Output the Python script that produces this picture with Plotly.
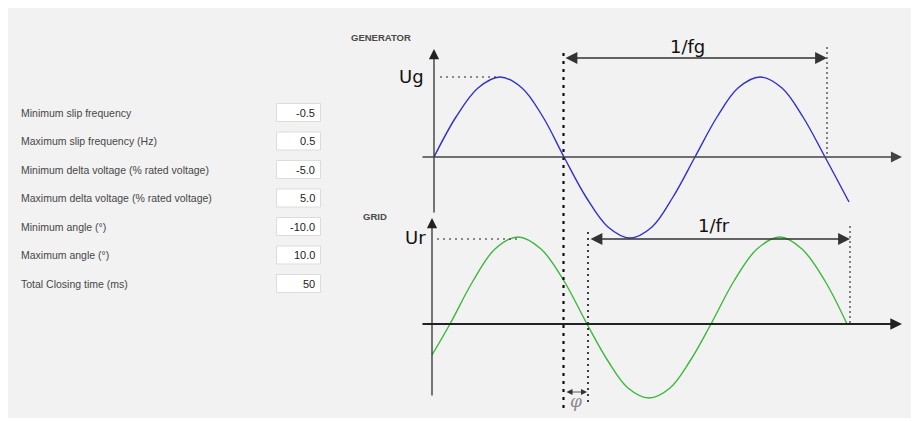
import plotly.graph_objects as go

W, H = 919, 421
OFF = 8  # browser body margin

# ---- form data ----
field_labels = [
    "Minimum slip frequency",
    "Maximum slip frequency (Hz)",
    "Minimum delta voltage (% rated voltage)",
    "Maximum delta voltage (% rated voltage)",
    "Minimum angle (°)",
    "Maximum angle (°)",
    "Total Closing time (ms)",
]
field_values = ["-0.5", "0.5", "-5.0", "5.0", "-10.0", "10.0", "50"]

# ---- diagram curves (pixel-space of the diagram) ----
gen_x = [434, 456, 478, 500, 522, 543, 564, 586, 608, 630, 652, 673, 695, 717, 738, 760, 782, 803, 825, 849]
gen_y = [157, 117, 88, 77, 88, 117, 157, 197, 227, 238, 227, 197, 157, 117, 88, 77, 88, 117, 157, 202]
grid_x = [432, 450, 473, 495, 518, 541, 564, 587, 608, 628, 649, 670, 690, 711, 734, 757, 780, 802, 825, 847]
grid_y = [355, 324, 281, 249, 237, 249, 281, 324, 361, 388, 398, 388, 361, 324, 281, 249, 237, 249, 281, 324]

fig = go.Figure()
fig.add_trace(go.Scatter(x=gen_x, y=gen_y, mode="lines", line=dict(color="#3030cc", width=1.4, shape="spline", smoothing=1.0), hoverinfo="skip"))
fig.add_trace(go.Scatter(x=grid_x, y=grid_y, mode="lines", line=dict(color="#3cb83c", width=1.4, shape="spline", smoothing=1.0), hoverinfo="skip"))

shapes = []
annotations = []

# background panel
shapes.append(dict(type="rect", xref="x", yref="y", x0=0, x1=912, y0=0, y1=418, fillcolor="#f2f2f2", line=dict(width=0), layer="below"))

# form
LBL_FONT = dict(family="Liberation Sans, Arial", size=10.5, color="#474747")
for i, (lab, val) in enumerate(zip(field_labels, field_values)):
    yc = 112.5 + i * 28.5
    annotations.append(dict(x=19, y=yc, xref="x", yref="y", text=lab, showarrow=False, xanchor="left", yanchor="middle", font=LBL_FONT))
    shapes.append(dict(type="rect", xref="x", yref="y", x0=276.5, x1=320.5, y0=yc - 9, y1=yc + 9, fillcolor="white", line=dict(color="#dcdcdc", width=1), layer="below"))
    annotations.append(dict(x=317, y=yc, xref="x", yref="y", text=val, showarrow=False, xanchor="right", yanchor="middle", font=dict(family="Liberation Sans, Arial", size=11, color="#222222")))

# titles
annotations.append(dict(x=349, y=37, xref="x", yref="y", text="<b>GENERATOR</b>", showarrow=False, xanchor="left", yanchor="middle", font=dict(family="Liberation Sans, Arial", size=9.5, color="#4a4a4a")))
annotations.append(dict(x=361, y=216, xref="x", yref="y", text="<b>GRID</b>", showarrow=False, xanchor="left", yanchor="middle", font=dict(family="Liberation Sans, Arial", size=9.5, color="#4a4a4a")))

def arrow(x0, y0, x1, y1, color="#111111", width=1.3, size=1.6, both=False, head=2):
    annotations.append(dict(x=x1, y=y1, ax=x0, ay=y0, xref="x", yref="y", axref="x", ayref="y", text="", showarrow=True,
                            arrowhead=head, arrowsize=size, arrowwidth=width, arrowcolor=color,
                            arrowside="end+start" if both else "end", startarrowhead=head, startarrowsize=size, standoff=0, startstandoff=0))

# generator axes
arrow(434, 214, 434, 49, color="#222222", width=1.2, size=1.7)
arrow(421, 157, 902, 157, color="#444444", width=1.3, size=1.7)
# grid axes
arrow(432, 397, 432, 218, color="#222222", width=1.2, size=1.7)
arrow(421, 324, 902, 324, color="#222222", width=1.8, size=1.3)

# dotted guide lines
shapes.append(dict(type="line", xref="x", yref="y", x0=563.5, x1=563.5, y0=53, y1=411, line=dict(color="#111111", width=2.2, dash="3px,5px")))
shapes.append(dict(type="line", xref="x", yref="y", x0=588, x1=588, y0=232, y1=404, line=dict(color="#111111", width=1.6, dash="2px,4px")))
shapes.append(dict(type="line", xref="x", yref="y", x0=827, x1=827, y0=47, y1=157, line=dict(color="#111111", width=1, dash="2px,3px")))
shapes.append(dict(type="line", xref="x", yref="y", x0=850, x1=850, y0=226, y1=324, line=dict(color="#111111", width=1, dash="2px,3px")))
shapes.append(dict(type="line", xref="x", yref="y", x0=440, x1=500, y0=77, y1=77, line=dict(color="#222222", width=1, dash="2px,4px")))
shapes.append(dict(type="line", xref="x", yref="y", x0=437, x1=518, y0=239, y1=239, line=dict(color="#222222", width=1, dash="2px,4px")))

# period arrows
arrow(564, 58, 827, 58, color="#333333", width=1.4, size=1.7, both=True)
arrow(589, 239, 850, 239, color="#333333", width=1.4, size=1.7, both=True)
arrow(565, 392, 587, 392, color="#333333", width=0.8, size=1.5, both=True)

TXT = dict(family="DejaVu Sans", size=18, color="#111111")
annotations.append(dict(x=687, y=46, xref="x", yref="y", text="1/fg", showarrow=False, xanchor="center", yanchor="middle", font=TXT))
annotations.append(dict(x=714, y=225, xref="x", yref="y", text="1/fr", showarrow=False, xanchor="center", yanchor="middle", font=TXT))
annotations.append(dict(x=426, y=76, xref="x", yref="y", text="Ug", showarrow=False, xanchor="right", yanchor="middle", font=TXT))
annotations.append(dict(x=428, y=237, xref="x", yref="y", text="Ur", showarrow=False, xanchor="right", yanchor="middle", font=TXT))
annotations.append(dict(x=576, y=401, xref="x", yref="y", text="<i>φ</i>", showarrow=False, xanchor="center", yanchor="middle", font=dict(family="DejaVu Serif", size=17, color="#8a8a8a")))

fig.update_layout(
    width=W - OFF, height=H - OFF, margin=dict(l=0, r=0, t=0, b=0),
    paper_bgcolor="white", plot_bgcolor="rgba(0,0,0,0)",
    showlegend=False,
    xaxis=dict(range=[OFF, W], visible=False, fixedrange=True),
    yaxis=dict(range=[H, OFF], visible=False, fixedrange=True),
    shapes=shapes, annotations=annotations,
)
fig.write_html("out.html")
